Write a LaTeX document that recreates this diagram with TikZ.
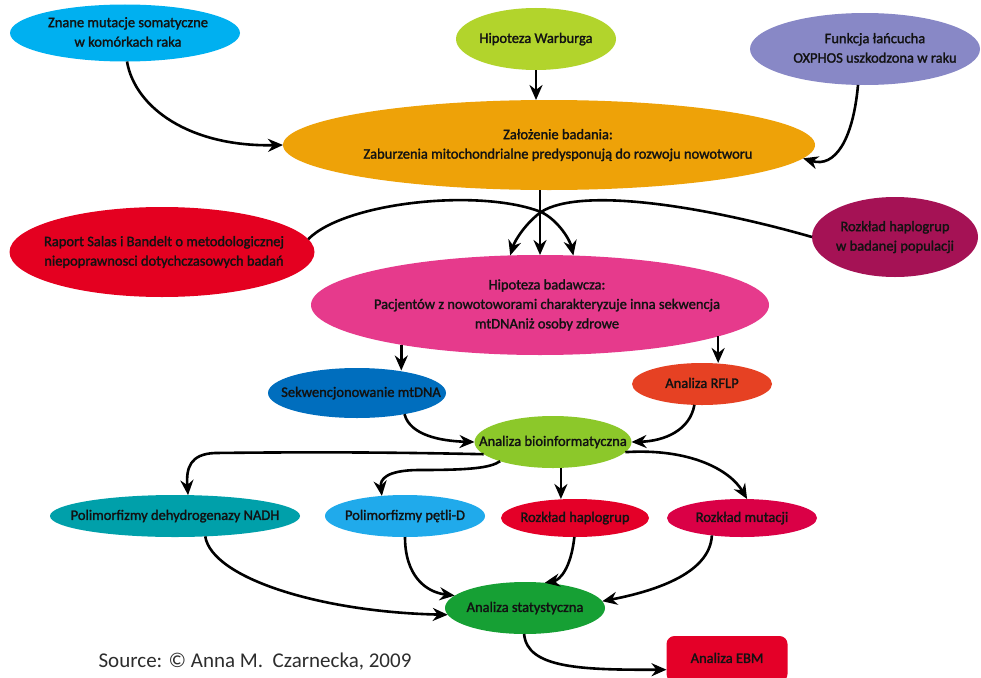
\documentclass[tikz,border=0pt]{standalone}
\usepackage{fontspec}
\setmainfont{Carlito}
\newfontfamily\nodefont{Carlito}[FakeBold=1.6]
\usetikzlibrary{shapes.geometric,arrows.meta}
\definecolor{cZn}{RGB}{0,176,240}
\definecolor{cWb}{RGB}{178,212,44}
\definecolor{cFk}{RGB}{136,136,198}
\definecolor{cZal}{RGB}{238,162,8}
\definecolor{cRp}{RGB}{228,0,32}
\definecolor{cRpop}{RGB}{165,18,85}
\definecolor{cHb}{RGB}{230,58,140}
\definecolor{cSek}{RGB}{0,110,190}
\definecolor{cRflp}{RGB}{230,65,35}
\definecolor{cBio}{RGB}{140,200,42}
\definecolor{cNadh}{RGB}{0,160,170}
\definecolor{cPd}{RGB}{32,170,235}
\definecolor{cRh}{RGB}{228,0,40}
\definecolor{cRm}{RGB}{218,0,70}
\definecolor{cStat}{RGB}{22,160,52}
\definecolor{cEbm}{RGB}{228,0,40}
\definecolor{txtc}{RGB}{18,18,18}
\definecolor{srcc}{RGB}{45,45,45}
\newcommand\mytxt[2][0pt]{\makebox[0pt]{\hspace*{#1}\begin{tabular}{@{}c@{}}#2\end{tabular}}}
\tikzset{
  oval/.style={ellipse, inner sep=0pt, outer sep=0pt, text=txtc,
    font={\nodefont\fontsize{14.5}{19.5}\selectfont}},
  conn/.style={line width=2.6pt, black, -{Stealth[length=15pt,width=13pt]}}
}
\begin{document}
\begin{tikzpicture}[x=1pt,y=-1pt]
\useasboundingbox (0,0) rectangle (981,677);
\clip (0,0) rectangle (981,677);
\fill[white] (0,0) rectangle (981,677);

% nodes
\node[oval, fill=cZn, minimum width=230pt, minimum height=57pt] (zn) at (125,33)
  {\mytxt[6pt]{Znane mutacje somatyczne\\w komórkach raka}};
\node[oval, fill=cWb, minimum width=160pt, minimum height=62pt] (wb) at (536,39)
  {\mytxt{Hipoteza Warburga}};
\node[oval, fill=cFk, minimum width=230pt, minimum height=72pt] (fk) at (865,49)
  {\mytxt[20pt]{Funkcja łańcucha\\OXPHOS uszkodzona w raku}};
\node[oval, fill=cZal, minimum width=532pt, minimum height=90pt] (zal) at (549,145)
  {\mytxt[18pt]{Założenie badania:\\Zaburzenia mitochondrialne predysponują do rozwoju nowotworu}};
\node[oval, fill=cRp, minimum width=305pt, minimum height=90pt] (rp) at (162,252)
  {\mytxt[4pt]{Raport Salas i Bandelt o metodologicznej\\niepoprawnosci dotychczasowych badań}};
\node[oval, fill=cRpop, minimum width=166pt, minimum height=80pt] (rpop) at (895,237)
  {\mytxt{Rozkład haplogrup\\w badanej populacji}};
\node[oval, fill=cHb, minimum width=458pt, minimum height=100pt] (hb) at (540,305)
  {\mytxt[14pt]{Hipoteza badawcza:\\Pacjentów z nowotoworami charakteryzuje inna sekwencja\\mtDNAniż osoby zdrowe}};
\node[oval, fill=cSek, minimum width=178pt, minimum height=50pt] (sek) at (357,393)
  {\mytxt[8pt]{Sekwencjonowanie mtDNA}};
\node[oval, fill=cRflp, minimum width=140pt, minimum height=42pt] (rflp) at (702,384)
  {\mytxt{Analiza RFLP}};
\node[oval, fill=cBio, minimum width=157pt, minimum height=52pt] (bio) at (553,442)
  {\mytxt{Analiza bioinformatyczna}};
\node[oval, fill=cNadh, minimum width=250pt, minimum height=42pt] (nadh) at (175,516)
  {\mytxt{Polimorfizmy dehydrogenazy NADH}};
\node[oval, fill=cPd, minimum width=160pt, minimum height=42pt] (pd) at (405,516)
  {\mytxt{Polimorfizmy pętli-D}};
\node[oval, fill=cRh, minimum width=148pt, minimum height=38pt] (rh) at (575,518)
  {\mytxt{Rozkład haplogrup}};
\node[oval, fill=cRm, minimum width=150pt, minimum height=38pt] (rm) at (742,518)
  {\mytxt{Rozkład mutacji}};
\node[oval, fill=cStat, minimum width=160pt, minimum height=52pt] (stat) at (525,608)
  {\mytxt{Analiza statystyczna}};
\node[rectangle, rounded corners=8pt, fill=cEbm, inner sep=0pt, outer sep=0pt,
  minimum width=121pt, minimum height=46pt, text=txtc,
  font={\nodefont\fontsize{14.5}{19.5}\selectfont}] (ebm) at (727,659) {\mytxt{Analiza EBM}};
\node[text=srcc, font={\fontsize{21}{24}\selectfont}, inner sep=0pt] (src) at (255,662)
  {Source: © Anna M.\ \ Czarnecka, 2009};

% connectors
\draw[conn] (zn.274) .. controls (135,108) and (190,147) .. (zal.west);
\draw[conn] (wb.south) -- (wb.south |- zal.north);
\draw[conn] (fk.259) .. controls (853,140) and (835,168) .. (zal.357);
\draw[conn] (rp.5) .. controls (345,202) and (480,188) .. (541,212)
  .. controls (558,220) and (570,240) .. (hb.56);
\draw[conn] (rpop.west) .. controls (700,205) and (580,187) .. (541,212)
  .. controls (526,223) and (515,240) .. (hb.121);
\draw[conn] (hb.north |- zal.south) -- (hb.north);
\draw[conn] (hb.196) -- (hb.196 |- sek.30);
\draw[conn] (hb.350) -- (hb.350 |- rflp.north);
\draw[conn] (sek.336) .. controls (410,435) and (440,441) .. (bio.west);
\draw[conn] (rflp.250) .. controls (690,430) and (665,441) .. (bio.east);
\draw[conn] (bio.190) .. controls (380,452) and (300,452) .. (215,453)
  .. controls (190,454) and (186,468) .. (nadh.58);
\draw[conn] (bio.200) .. controls (490,468) and (470,470) .. (420,470)
  .. controls (385,470) and (380,480) .. (pd.139);
\draw[conn] (bio.287) -- (bio.287 |- rh.north);
\draw[conn] (bio.352) .. controls (690,448) and (730,470) .. (rm.75);
\draw[conn] (nadh.326) .. controls (212,578) and (320,612) .. (stat.185);
\draw[conn] (pd.south) .. controls (405,575) and (425,592) .. (stat.170);
\draw[conn] (rh.268) .. controls (571,568) and (560,580) .. (stat.52);
\draw[conn] (rm.210) .. controls (710,575) and (650,592) .. (stat.5);
\draw[conn] (stat.268) .. controls (527,668) and (580,670) .. (ebm.190);
\end{tikzpicture}
\end{document}
